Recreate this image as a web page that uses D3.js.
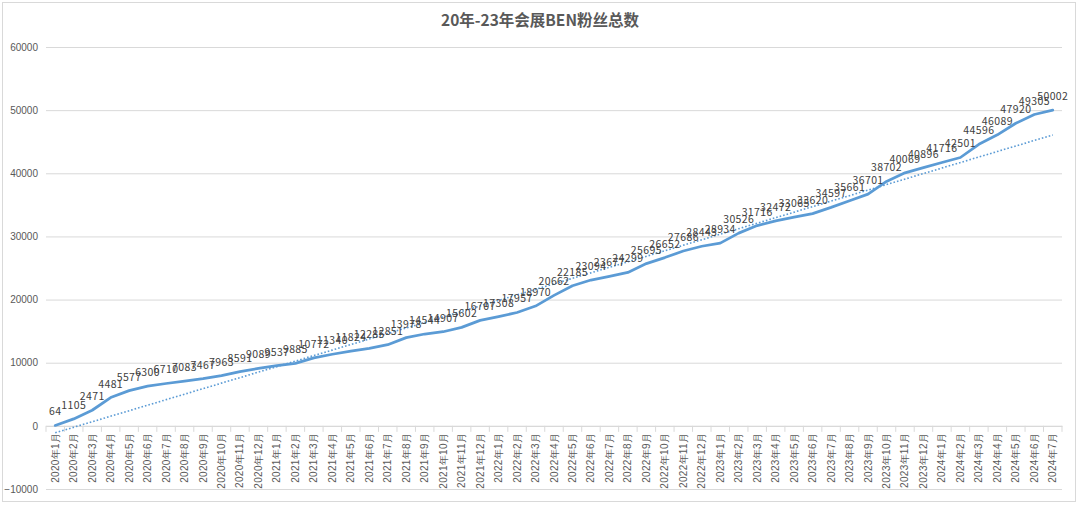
<!DOCTYPE html>
<html>
<head>
<meta charset="utf-8">
<script src="https://cdn.jsdelivr.net/npm/d3@7"></script>
<style>
  body { margin: 0; background: #fff; }
  svg { display: block; font-family: "Noto Sans CJK SC", "Noto Sans", sans-serif; }
</style>
</head>
<body>
<svg id="chart" width="1080" height="507"></svg>
<script>
const title = "20年-23年会展BEN粉丝总数"

// months 2020年1月 .. 2024年7月
const years = [2020, 2021, 2022, 2023, 2024]
const months = []
years.forEach(function (y) {
    for (let m = 1; m <= 12; m++) {
        if (y == 2024 && m > 7) break
        months.push(y + "年" + m + "月")
    }
})

const fans = [64, 1105, 2471, 4481, 5577, 6300, 6710, 7083, 7467, 7963,
    8591, 9089, 9537, 9885, 10772, 11340, 11824, 12285, 12851, 13978,
    14544, 14907, 15602, 16707, 17308, 17957, 18970, 20662, 22185, 23094,
    23677, 24299, 25695, 26652, 27686, 28443, 28934, 30526, 31716, 32472,
    33065, 33620, 34597, 35661, 36701, 38702, 40069, 40896, 41716, 42501,
    44596, 46089, 47920, 49305, 50002]

const yTicks = [-10000, 0, 10000, 20000, 30000, 40000, 50000, 60000]

const svg = d3.select("#chart")
const blue = "#5B9BD5"
const gray = "#595959"

svg.append("rect")
    .attr("x", 2.5).attr("y", 2.5)
    .attr("width", 1073).attr("height", 499)
    .attr("fill", "#fff")
    .attr("stroke", "#d9d9d9")

svg.append("text")
    .text(title)
    .attr("x", 540).attr("y", 26)
    .attr("text-anchor", "middle")
    .attr("font-size", "15.5px")
    .attr("font-weight", "bold")
    .attr("fill", gray)

const left = 46, right = 1062

var x = d3.scaleBand()
    .domain(months)
    .range([left, right])

var y = d3.scaleLinear()
    .domain([-10000, 60000])
    .range([489, 47])

// gridlines + y labels
svg.append("g")
    .attr("transform", "translate(" + left + ",0)")
    .call(d3.axisLeft(y).tickValues(yTicks).tickSize(-(right - left)).tickPadding(8).tickFormat(d3.format("d")))
    .call(g => g.select(".domain").remove())
    .call(g => g.selectAll("line").attr("stroke", "#d9d9d9"))
    .call(g => g.selectAll("text").attr("fill", gray).attr("font-size", "10px").attr("x", -8))

// category axis sitting on zero
var xAxis = svg.append("g")
    .attr("transform", "translate(0," + y(0) + ")")
    .call(d3.axisBottom(x).tickSize(0))

xAxis.select(".domain").attr("stroke", "#d9d9d9")
xAxis.selectAll(".tick text")
    .attr("fill", gray)
    .attr("font-size", "10px")
    .attr("letter-spacing", "0.3px")
    .attr("text-anchor", "end")
    .attr("dy", "0.35em")
    .attr("transform", "translate(0,7) rotate(-90)")
    .attr("x", 0).attr("y", 0)

// boundary tick marks
xAxis.selectAll(".bnd")
    .data(months.concat(["end"]))
    .join("line")
    .attr("class", "bnd")
    .attr("x1", (d, i) => left + i * x.step())
    .attr("x2", (d, i) => left + i * x.step())
    .attr("y1", 0).attr("y2", 6)
    .attr("stroke", "#d9d9d9")

const cx = d => x(d) + x.bandwidth() / 2

// linear trendline (least squares on month index)
const n = fans.length
const idx = d3.range(1, n + 1)
const mx = d3.mean(idx), my = d3.mean(fans)
const slope = d3.sum(idx, (t, i) => (t - mx) * (fans[i] - my)) / d3.sum(idx, t => (t - mx) * (t - mx))
const icpt = my - slope * mx

svg.append("line")
    .attr("x1", cx(months[0])).attr("y1", y(icpt + slope * 1))
    .attr("x2", cx(months[n - 1])).attr("y2", y(icpt + slope * n))
    .attr("stroke", blue)
    .attr("stroke-width", 1.6)
    .attr("stroke-dasharray", "1.6,2")

svg.append("path")
    .datum(fans)
    .attr("fill", "none")
    .attr("stroke", blue)
    .attr("stroke-width", 2.75)
    .attr("stroke-linejoin", "round")
    .attr("stroke-linecap", "round")
    .attr("d", d3.line().x((d, i) => cx(months[i])).y(d => y(d)))

svg.append("g")
    .selectAll("text")
    .data(fans)
    .join("text")
    .text(d => d)
    .attr("x", (d, i) => cx(months[i]))
    .attr("y", d => y(d) - 10)
    .attr("text-anchor", "middle")
    .attr("font-size", "10.5px")
    .attr("letter-spacing", "0.4px")
    .attr("fill", "#404040")
</script>
</body>
</html>
